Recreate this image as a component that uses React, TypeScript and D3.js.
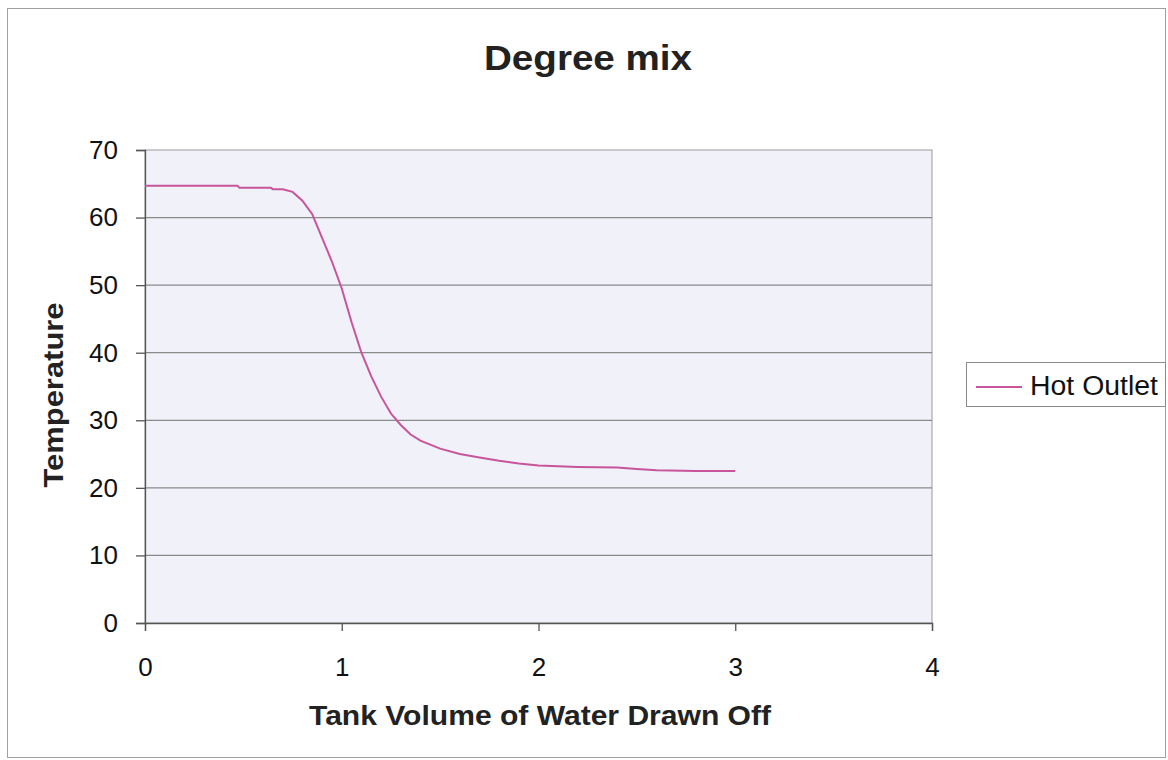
import React, { useEffect, useRef } from 'react'
import * as d3 from 'd3'

// Tank volume drawn off vs outlet temperature
const volume = [
  0, 0.1, 0.2, 0.3, 0.4, 0.47, 0.48, 0.6, 0.64, 0.65, 0.7, 0.75, 0.8, 0.85,
  0.9, 0.95, 1.0, 1.05, 1.1, 1.15, 1.2, 1.25, 1.3, 1.35, 1.4, 1.5, 1.6, 1.7,
  1.8, 1.9, 2.0, 2.2, 2.4, 2.5, 2.6, 2.8, 3.0,
]
const hotOutlet = [
  64.7, 64.7, 64.7, 64.7, 64.7, 64.7, 64.4, 64.4, 64.4, 64.2, 64.2, 63.8,
  62.5, 60.5, 57, 53.5, 49.5, 44.5, 40, 36.5, 33.5, 31, 29.3, 27.9, 27, 25.8,
  25, 24.5, 24, 23.6, 23.3, 23.1, 23, 22.8, 22.6, 22.5, 22.5,
]
const xTicks = [0, 1, 2, 3, 4]
const yTicks = [0, 10, 20, 30, 40, 50, 60, 70]
const seriesName = 'Hot Outlet'

const FONT = '"Liberation Sans", Arial, sans-serif'

export default function App() {
  const svgRef = useRef<SVGSVGElement>(null)

  useEffect(() => {
    const svg = d3.select(svgRef.current)
    svg.selectAll('*').remove()

    const left = 145
    const right = 932
    const top = 150
    const bottom = 623

    const x = d3.scaleLinear().domain([0, 4]).range([left, right])
    const y = d3.scaleLinear().domain([0, 70]).range([bottom, top])

    // outer chart frame
    svg
      .append('rect')
      .attr('x', 7.5)
      .attr('y', 8.5)
      .attr('width', 1158)
      .attr('height', 749)
      .attr('fill', '#fff')
      .attr('stroke', '#a0a0a0')

    // plot background
    svg
      .append('rect')
      .attr('x', left)
      .attr('y', top)
      .attr('width', right - left)
      .attr('height', bottom - top)
      .attr('fill', '#f1f1fa')
      .attr('stroke', '#9a9a9a')

    // gridlines
    svg
      .append('g')
      .selectAll('line')
      .data(yTicks.filter((t) => t > 0 && t < 70))
      .enter()
      .append('line')
      .attr('x1', left)
      .attr('x2', right)
      .attr('y1', (d) => y(d))
      .attr('y2', (d) => y(d))
      .attr('stroke', '#8a8a8a')
      .attr('stroke-width', 1.3)

    // y axis
    const yAxis = d3
      .axisLeft(y)
      .tickValues(yTicks)
      .tickSize(9)
      .tickPadding(18)
      .tickFormat(d3.format('d'))
    const gy = svg.append('g').attr('transform', `translate(${left},0)`).call(yAxis)
    gy.select('.domain').attr('stroke', '#555').attr('stroke-width', 1.3)
    gy.selectAll('.tick line').attr('stroke', '#555').attr('stroke-width', 1.3)
    gy.selectAll('.tick text')
      .attr('font-family', FONT)
      .attr('font-size', 26)
      .attr('fill', '#111')

    // x axis
    const xAxis = d3
      .axisBottom(x)
      .tickValues(xTicks)
      .tickSize(8)
      .tickPadding(27)
      .tickFormat(d3.format('d'))
    const gx = svg.append('g').attr('transform', `translate(0,${bottom})`).call(xAxis)
    gx.select('.domain').attr('stroke', '#555').attr('stroke-width', 1.3)
    gx.selectAll('.tick line').attr('stroke', '#555').attr('stroke-width', 1.3)
    gx.selectAll('.tick text')
      .attr('font-family', FONT)
      .attr('font-size', 26)
      .attr('fill', '#111')

    // series line
    const line = d3
      .line<number>()
      .x((d, i) => x(volume[i]))
      .y((d) => y(d))
    svg
      .append('path')
      .datum(hotOutlet)
      .attr('d', line)
      .attr('fill', 'none')
      .attr('stroke', '#c8559c')
      .attr('stroke-width', 2)

    // title and axis titles
    svg
      .append('text')
      .attr('x', 588)
      .attr('y', 70)
      .attr('text-anchor', 'middle')
      .attr('font-family', FONT)
      .attr('font-weight', 'bold')
      .attr('font-size', 35)
      .attr('textLength', 208)
      .attr('lengthAdjust', 'spacingAndGlyphs')
      .attr('fill', '#222')
      .text('Degree mix')

    svg
      .append('text')
      .attr('x', 540)
      .attr('y', 725)
      .attr('text-anchor', 'middle')
      .attr('font-family', FONT)
      .attr('font-weight', 'bold')
      .attr('font-size', 28)
      .attr('textLength', 462)
      .attr('lengthAdjust', 'spacingAndGlyphs')
      .attr('fill', '#222')
      .text('Tank Volume of Water Drawn Off')

    svg
      .append('text')
      .attr('transform', `translate(63,395) rotate(-90)`)
      .attr('text-anchor', 'middle')
      .attr('font-family', FONT)
      .attr('font-weight', 'bold')
      .attr('font-size', 28)
      .attr('textLength', 185)
      .attr('lengthAdjust', 'spacingAndGlyphs')
      .attr('fill', '#222')
      .text('Temperature')

    // legend
    const lg = svg.append('g').attr('transform', 'translate(966,362)')
    lg.append('rect')
      .attr('x', 0.5)
      .attr('y', 0.5)
      .attr('width', 199)
      .attr('height', 44)
      .attr('fill', '#fff')
      .attr('stroke', '#8a8a8a')
    lg.append('line')
      .attr('x1', 10)
      .attr('x2', 56)
      .attr('y1', 25)
      .attr('y2', 25)
      .attr('stroke', '#c8559c')
      .attr('stroke-width', 2)
    lg.append('text')
      .attr('x', 64)
      .attr('y', 33)
      .attr('font-family', FONT)
      .attr('font-size', 27)
      .attr('textLength', 128)
      .attr('lengthAdjust', 'spacingAndGlyphs')
      .attr('fill', '#111')
      .text(seriesName)
  }, [])

  return (
    <svg
      ref={svgRef}
      width="1168"
      height="760"
      style={{ position: 'absolute', left: 0, top: 0 }}
    ></svg>
  )
}
